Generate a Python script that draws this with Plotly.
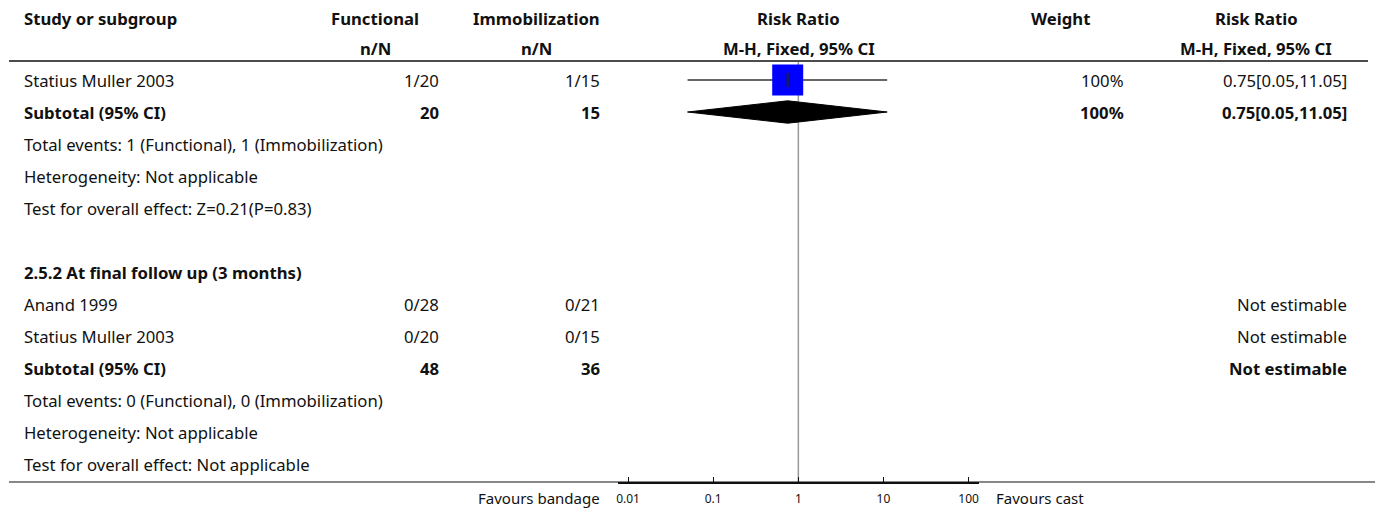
import plotly.graph_objects as go

# ---------------- data ----------------
row_labels = [
    "Statius Muller 2003",
    "Subtotal (95% CI)",
    "Total events: 1 (Functional), 1 (Immobilization)",
    "Heterogeneity: Not applicable",
    "Test for overall effect: Z=0.21(P=0.83)",
    "",
    "2.5.2 At final follow up (3 months)",
    "Anand 1999",
    "Statius Muller 2003",
    "Subtotal (95% CI)",
    "Total events: 0 (Functional), 0 (Immobilization)",
    "Heterogeneity: Not applicable",
    "Test for overall effect: Not applicable",
]
bold_rows = [1, 6, 9]
functional_col = ["1/20", "20", "", "", "", "", "", "0/28", "0/20", "48", "", "", ""]
immob_col = ["1/15", "15", "", "", "", "", "", "0/21", "0/15", "36", "", "", ""]
weight_col = ["100%", "100%", "", "", "", "", "", "", "", "", "", "", ""]
rr_col = ["0.75[0.05,11.05]", "0.75[0.05,11.05]", "", "", "", "", "",
          "Not estimable", "Not estimable", "Not estimable", "", "", ""]

# study-level estimates (row index, RR, lower, upper)
study_rows = [0]
study_rr = [0.75]
study_lo = [0.05]
study_hi = [11.05]

# pooled estimates (diamonds)
pooled_rows = [1]
pooled_rr = [0.75]
pooled_lo = [0.05]
pooled_hi = [11.05]

tick_vals = [0.01, 0.1, 1, 10, 100]
tick_text = ["0.01", "0.1", "1", "10", "100"]
null_value = 1
left_label = "Favours bandage"
right_label = "Favours cast"

header1 = ["Study or subgroup", "Functional", "Immobilization", "Risk Ratio", "Weight", "Risk Ratio"]
header2 = ["", "n/N", "n/N", "M-H, Fixed, 95% CI", "", "M-H, Fixed, 95% CI"]

# ---------------- layout constants ----------------
W, H = 1375, 513
FONT = "Noto Sans"
FS = 16.7
TXT = "#111111"
row_px0, row_step = 80, 32
top_line_px, bottom_line_px = 61, 482

def py(px):
    return 1 - px / H

def px_x(px):
    return px / W

y_top_val = (top_line_px - row_px0) / row_step
y_bot_val = (bottom_line_px - row_px0) / row_step

fig = go.Figure()

# CI lines
for r, lo, hi in zip(study_rows, study_lo, study_hi):
    fig.add_trace(go.Scatter(x=[lo, hi], y=[r, r], mode="lines",
                             line=dict(color="#333333", width=1.5),
                             hoverinfo="skip", showlegend=False))
# squares
fig.add_trace(go.Scatter(x=study_rr, y=study_rows, mode="markers",
                         marker=dict(symbol="square", size=31, color="#0000FF",
                                     line=dict(width=0)),
                         hoverinfo="skip", showlegend=False))
# point tick inside square
fig.add_trace(go.Scatter(x=study_rr, y=study_rows, mode="markers",
                         marker=dict(symbol="line-ns", size=10,
                                     line=dict(color="#222222", width=2)),
                         hoverinfo="skip", showlegend=False))
# diamonds
half_h = 0.35
for r, est, lo, hi in zip(pooled_rows, pooled_rr, pooled_lo, pooled_hi):
    fig.add_trace(go.Scatter(x=[lo, est, hi, est, lo],
                             y=[r, r - half_h, r, r + half_h, r],
                             mode="lines", fill="toself", fillcolor="black",
                             line=dict(color="black", width=1),
                             hoverinfo="skip", showlegend=False))

ann = []

def add_text(text, xpx, ypx, anchor, bold=False, size=FS):
    if not text:
        return
    ann.append(dict(text=f"<b>{text}</b>" if bold else text,
                    x=px_x(xpx), y=py(ypx), xref="paper", yref="paper",
                    xanchor=anchor, yanchor="middle", showarrow=False,
                    font=dict(family=FONT, size=size, color=TXT)))

# headers
h_x = [20, 374, 535, 798, 1060, 1256]
h_anchor = ["left", "center", "center", "center", "center", "center"]
for t, x, a in zip(header1, h_x, h_anchor):
    add_text(t, x, 18, a, bold=True)
for t, x, a in zip(header2, h_x, h_anchor):
    add_text(t, x, 48, a, bold=True)

# body rows
for i, lab in enumerate(row_labels):
    ypx = row_px0 + row_step * i
    b = i in bold_rows
    add_text(lab, 20, ypx, "left", bold=b)
    add_text(functional_col[i], 440, ypx, "right", bold=b)
    add_text(immob_col[i], 601, ypx, "right", bold=b)
    add_text(weight_col[i], 1126, ypx, "right", bold=b)
    add_text(rr_col[i], 1349, ypx, "right", bold=b)

add_text(left_label, 601, 498, "right", size=15)
add_text(right_label, 993, 498, "left", size=15)

shapes = [
    dict(type="line", xref="paper", yref="paper", x0=px_x(7), x1=px_x(1368),
         y0=py(top_line_px), y1=py(top_line_px), line=dict(color="#111111", width=1.5)),
    dict(type="line", xref="paper", yref="paper", x0=px_x(7), x1=px_x(1375),
         y0=py(bottom_line_px), y1=py(bottom_line_px), line=dict(color="#111111", width=1.2)),
    dict(type="line", xref="x", yref="paper", x0=null_value, x1=null_value,
         y0=py(bottom_line_px), y1=py(top_line_px + 1), line=dict(color="#999999", width=1.5),
         layer="below"),
]

ax_l, ax_r = 617, 978
fig.update_layout(
    width=W, height=H, autosize=False,
    margin=dict(l=0, r=0, t=0, b=0),
    paper_bgcolor="white", plot_bgcolor="white",
    annotations=ann, shapes=shapes, showlegend=False,
    xaxis=dict(type="log", domain=[px_x(ax_l), px_x(ax_r)],
               range=[-2.117, 2.117], tickvals=tick_vals, ticktext=tick_text,
               showgrid=False, zeroline=False, showline=True, linecolor="#111111",
               linewidth=2, ticks="inside", ticklen=5, tickwidth=1, tickcolor="#111111",
               tickfont=dict(family=FONT, size=12, color=TXT), ticklabelstandoff=5,
               fixedrange=True),
    yaxis=dict(domain=[py(bottom_line_px), py(top_line_px)],
               range=[y_bot_val, y_top_val], visible=False, fixedrange=True),
)

fig.write_html("out.html")
